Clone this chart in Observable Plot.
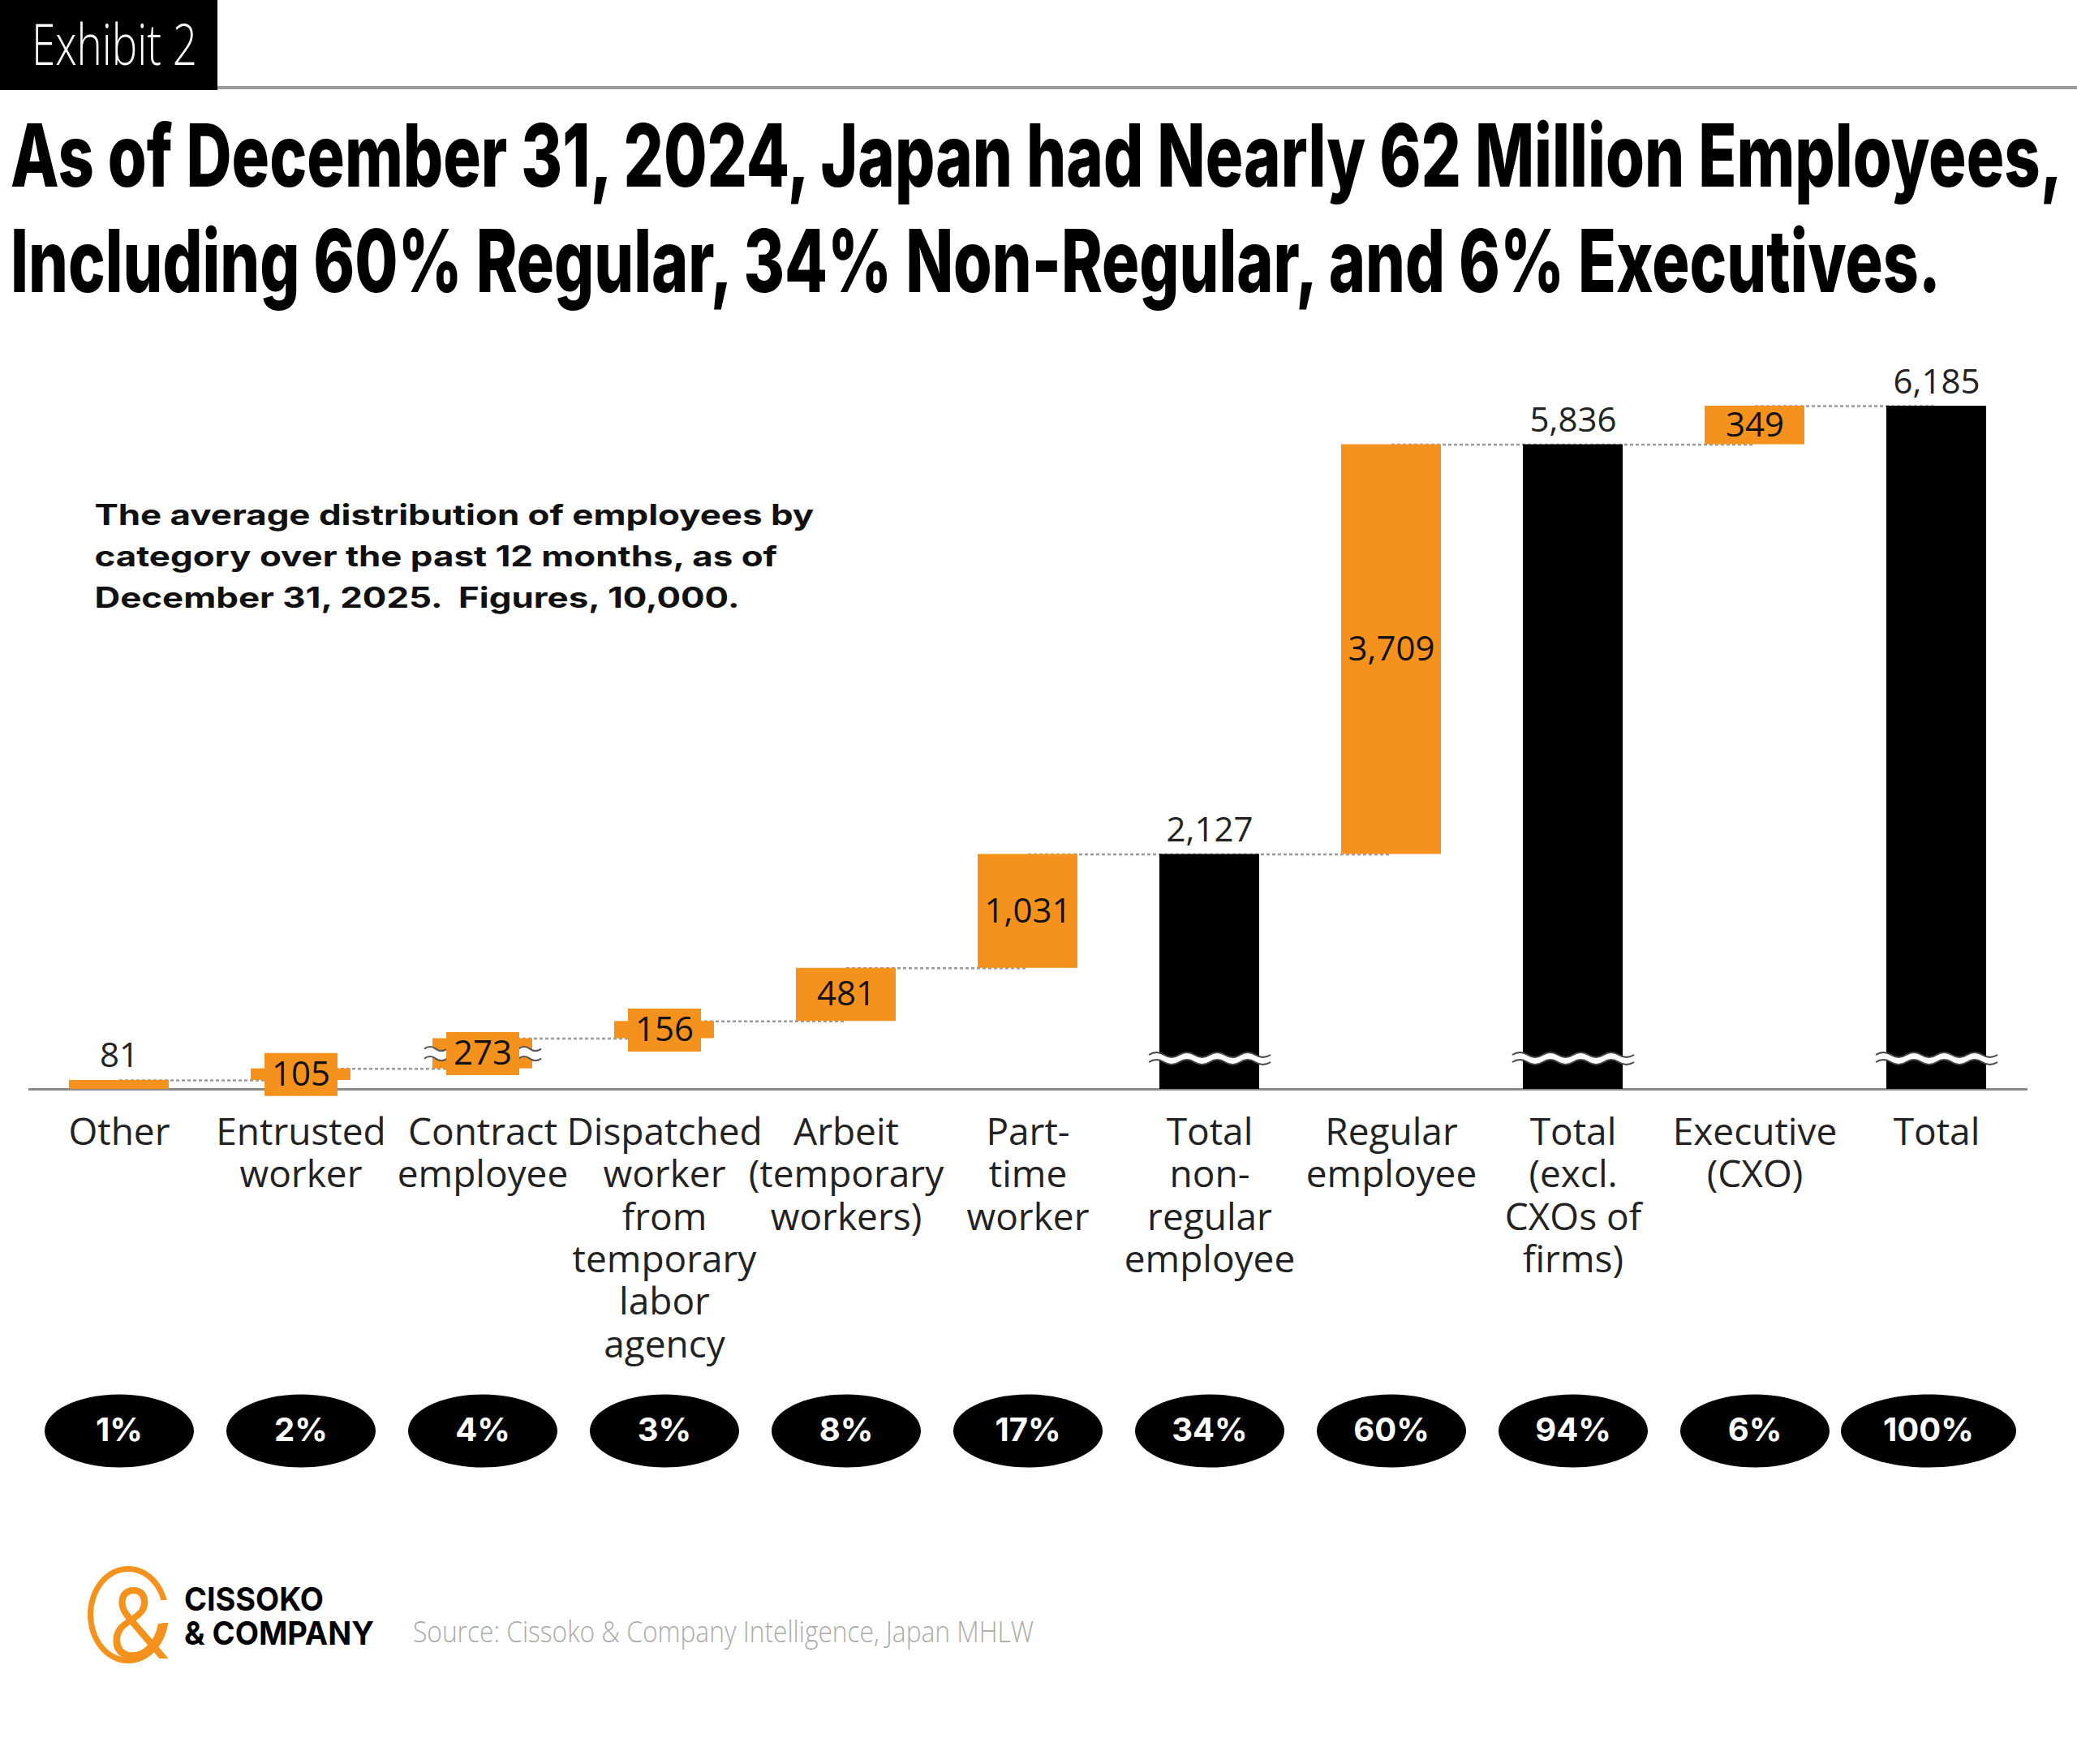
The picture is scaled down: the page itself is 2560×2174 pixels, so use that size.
<!DOCTYPE html>
<html><head><meta charset="utf-8">
<script src="https://cdn.jsdelivr.net/npm/d3@7"></script>
<script src="https://cdn.jsdelivr.net/npm/@observablehq/plot@0.6"></script>
<style>
html,body{margin:0;padding:0;background:#fff;}
body{width:2560px;height:2174px;position:relative;overflow:hidden;font-family:"Open Sans",sans-serif;}
.abs{position:absolute;white-space:nowrap;transform-origin:0 0;}
#exhibit{left:0;top:0;width:268px;height:111px;background:#000;}
#exhibitText{left:39px;top:18px;color:#fff;font-family:"Open Sans";font-weight:300;font-size:70px;line-height:70px;}
#rule{left:268px;top:106px;width:2292px;height:4px;background:#9b9b9b;}
.title{left:13px;font-family:Inter;font-weight:800;font-size:107px;line-height:107px;color:#000;}
#t1{top:138px;} #t2{top:268px;}
#chart{left:0;top:400px;}
#logoRing{left:108px;top:1930px;width:86px;height:106px;border:7px solid #F5921E;border-radius:50%;}
#logoGap{left:196px;top:1972px;width:16px;height:28px;background:#fff;}
#logoAmp{left:134px;top:1938px;font-family:"Open Sans";font-weight:400;font-size:120px;line-height:120px;color:#F5921E;}
.brand{left:227px;font-family:Inter;font-weight:700;font-size:40px;line-height:40px;color:#000;}
#b1{top:1951px;} #b2{top:1993px;}
#source{left:509px;top:1993px;font-family:"Open Sans";font-weight:300;font-size:36px;line-height:36px;color:#aaa;}
</style>
</head>
<body>
<div id="exhibit" class="abs"></div>
<div id="exhibitText" class="abs">Exhibit 2</div>
<div id="rule" class="abs"></div>
<div id="t1" class="abs title">As of December 31, 2024, Japan had Nearly 62 Million Employees,</div>
<div id="t2" class="abs title">Including 60% Regular, 34% Non-Regular, and 6% Executives.</div>
<div id="chart" class="abs"></div>
<div id="logoRing" class="abs"></div>
<div id="logoGap" class="abs"></div>
<div id="logoAmp" class="abs">&amp;</div>
<div id="b1" class="abs brand">CISSOKO</div>
<div id="b2" class="abs brand">&amp; COMPANY</div>
<div id="source" class="abs">Source: Cissoko &amp; Company Intelligence, Japan MHLW</div>
<script>
// ---- data ----
const categories = ["Other", "Entrusted worker", "Contract employee", "Dispatched worker from temporary labor agency",
  "Arbeit (temporary workers)", "Part-time worker", "Total non-regular employee", "Regular employee",
  "Total (excl. CXOs of firms)", "Executive (CXO)", "Total"];
const tickLabels = ["Other", "Entrusted\nworker", "Contract\nemployee", "Dispatched\nworker\nfrom\ntemporary\nlabor\nagency",
  "Arbeit\n(temporary\nworkers)", "Part-\ntime\nworker", "Total\nnon-\nregular\nemployee", "Regular\nemployee",
  "Total\n(excl.\nCXOs of\nfirms)", "Executive\n(CXO)", "Total"];
const values = [81, 105, 273, 156, 481, 1031, 2127, 3709, 5836, 349, 6185];
const kinds = ["delta", "delta", "delta", "delta", "delta", "delta", "total", "delta", "total", "delta", "total"];
const shares = ["1%", "2%", "4%", "3%", "8%", "17%", "34%", "60%", "94%", "6%", "100%"];
const brokenDeltas = ["Contract employee"];
const subtitle = "The average distribution of employees by\ncategory over the past 12 months, as of\nDecember 31, 2025.  Figures, 10,000.";

const ORANGE = "#F5921E";
let cum = 0;
const data = categories.map((cat, i) => {
  const v = values[i];
  let start, end;
  if (kinds[i] === "total") { start = 0; end = v; } else { start = cum; end = cum + v; }
  cum = end;
  return {cat, i, value: v, kind: kinds[i], start, end, mid: (start + end) / 2,
    share: shares[i], label: tickLabels[i], color: kinds[i] === "total" ? "#000" : ORANGE};
});
const links = data.slice(0, -1).map((d, i) => ({a: d.cat, b: data[i + 1].cat, y: d.end}));
const labelOf = new Map(data.map(d => [d.cat, d.label]));
const fmt = d3.format(",");

function ellipse(rx, ry) {
  return {draw(ctx) {
    const k = 0.5523;
    ctx.moveTo(rx, 0);
    ctx.bezierCurveTo(rx, k * ry, k * rx, ry, 0, ry);
    ctx.bezierCurveTo(-k * rx, ry, -rx, k * ry, -rx, 0);
    ctx.bezierCurveTo(-rx, -k * ry, -k * rx, -ry, 0, -ry);
    ctx.bezierCurveTo(k * rx, -ry, rx, -k * ry, rx, 0);
    ctx.closePath();
  }};
}
function rectSym(w, h) { return {draw(ctx) { ctx.rect(-w / 2, -h / 2, w, h); }}; }
function waveBand(half, g, amp, n, closed) {
  return {draw(ctx) {
    const step = 2 * half / n;
    ctx.moveTo(-half, -g);
    for (let k = 0; k < n; k++) {
      const x0 = -half + k * step, s = k % 2 ? 1 : -1;
      ctx.quadraticCurveTo(x0 + step / 2, -g + s * 2 * amp, x0 + step, -g);
    }
    if (closed) {
      ctx.lineTo(half, g);
      for (let k = n - 1; k >= 0; k--) {
        const x0 = -half + k * step, s = k % 2 ? 1 : -1;
        ctx.quadraticCurveTo(x0 + step / 2, g + s * 2 * amp, x0, g);
      }
      ctx.closePath();
    } else {
      ctx.moveTo(-half, g);
      for (let k = 0; k < n; k++) {
        const x0 = -half + k * step, s = k % 2 ? 1 : -1;
        ctx.quadraticCurveTo(x0 + step / 2, g + s * 2 * amp, x0 + step, g);
      }
    }
  }};
}

const totals = data.filter(d => d.kind === "total");
const inside = data.filter(d => d.kind === "delta" && d.i > 0);
const above = data.filter(d => d.kind === "total" || d.i === 0);
const boxed = inside.filter(d => d.value < 300);
const broken = data.filter(d => brokenDeltas.includes(d.cat));
const normalPct = data.filter(d => d.share !== "100%");
const widePct = data.filter(d => d.share === "100%");

const chart = Plot.plot({
  width: 2560,
  height: 1440,
  marginTop: 100,
  marginBottom: 498,
  marginLeft: 35,
  marginRight: 61,
  style: {fontFamily: "Open Sans", color: "#222", background: "transparent", overflow: "visible"},
  x: {domain: categories, paddingInner: 0.45, paddingOuter: 0.225},
  y: {domain: [0, d3.max(data, d => d.end)], axis: null},
  marks: [
    Plot.link(links, {x1: "a", x2: "b", y1: "y", y2: "y", stroke: "#9a9a9a", strokeWidth: 2.5, strokeDasharray: "4,3"}),
    Plot.ruleY([0], {stroke: "#8a8a8a", strokeWidth: 3}),
    Plot.barY(data, {x: "cat", y1: "start", y2: "end", fill: "color"}),
    Plot.dot(totals, {x: "cat", frameAnchor: "bottom", dy: -38, symbol: waveBand(75, 4.5, 3, 8, true), fill: "white", stroke: "none"}),
    Plot.dot(totals, {x: "cat", frameAnchor: "bottom", dy: -38, symbol: waveBand(75, 4.5, 3, 8, false), fill: "none", stroke: "#444", strokeWidth: 2}),
    Plot.dot(broken, {x: "cat", y: "mid", dx: -58, symbol: waveBand(14, 6, 2.5, 2, true), fill: "white", stroke: "none"}),
    Plot.dot(broken, {x: "cat", y: "mid", dx: -58, symbol: waveBand(14, 6, 2.5, 2, false), fill: "none", stroke: "#555", strokeWidth: 2}),
    Plot.dot(broken, {x: "cat", y: "mid", dx: 58, symbol: waveBand(14, 6, 2.5, 2, true), fill: "white", stroke: "none"}),
    Plot.dot(broken, {x: "cat", y: "mid", dx: 58, symbol: waveBand(14, 6, 2.5, 2, false), fill: "none", stroke: "#555", strokeWidth: 2}),
    Plot.dot(boxed, {x: "cat", y: "mid", symbol: rectSym(90, 53), fill: ORANGE, stroke: "none"}),
    Plot.text(inside, {x: "cat", y: "mid", text: d => fmt(d.value), fontSize: 42, fill: "#111"}),
    Plot.text(above, {x: "cat", y: "end", text: d => fmt(d.value), lineAnchor: "bottom", dy: -16, fontSize: 42, fill: "#222"}),
    Plot.axisX({tickSize: 0, tickPadding: 31, fontSize: 46, lineHeight: 1.14, tickFormat: d => labelOf.get(d), label: null}),
    Plot.dot(normalPct, {x: "cat", frameAnchor: "bottom", dy: 421, symbol: ellipse(92, 45), fill: "#000", stroke: "none"}),
    Plot.dot(widePct, {x: "cat", frameAnchor: "bottom", dy: 421, dx: -10, symbol: ellipse(108, 45), fill: "#000", stroke: "none"}),
    Plot.text(normalPct, {x: "cat", frameAnchor: "bottom", dy: 421, lineAnchor: "middle", text: "share", fill: "white", fontWeight: 700, fontSize: 40, fontFamily: "Inter"}),
    Plot.text(widePct, {x: "cat", frameAnchor: "bottom", dy: 421, dx: -10, lineAnchor: "middle", text: "share", fill: "white", fontWeight: 700, fontSize: 40, fontFamily: "Inter"}),
    Plot.text([subtitle], {frameAnchor: "top-left", dx: 81, dy: 110, text: d => d, lineAnchor: "top", textAnchor: "start",
      fontSize: 35, fontWeight: 700, fontFamily: "Inter", lineHeight: 1.46, fill: "#111", className: "subtitle-text"})
  ]
});
document.getElementById("chart").appendChild(chart);

function stretchSubtitle() {
  const g = chart.querySelector("g.subtitle-text") || chart.querySelector(".subtitle-text");
  if (!g) return;
  const t = g.tagName === "text" ? g : g.querySelector("text");
  if (!t) return;
  const base = t.getAttribute("data-base") ?? (t.getAttribute("transform") || "");
  t.setAttribute("data-base", base);
  t.setAttribute("transform", base);
  const w = t.getBBox().width;
  if (w > 0) t.setAttribute("transform", `${base} scale(${887 / w},1)`);
}

function fit(id, target) {
  const el = document.getElementById(id);
  el.style.transform = "none";
  const w = el.getBoundingClientRect().width;
  if (w > 0) el.style.transform = `scaleX(${target / w})`;
}
function fitAll() {
  fit("exhibitText", 204);
  fit("t1", 2529);
  fit("t2", 2379);
  fit("b1", 172);
  fit("b2", 234);
  fit("source", 765);
  fit("logoAmp", 74);
  stretchSubtitle();
}
fitAll();
if (document.fonts && document.fonts.ready) document.fonts.ready.then(fitAll);
</script>
</body></html>
